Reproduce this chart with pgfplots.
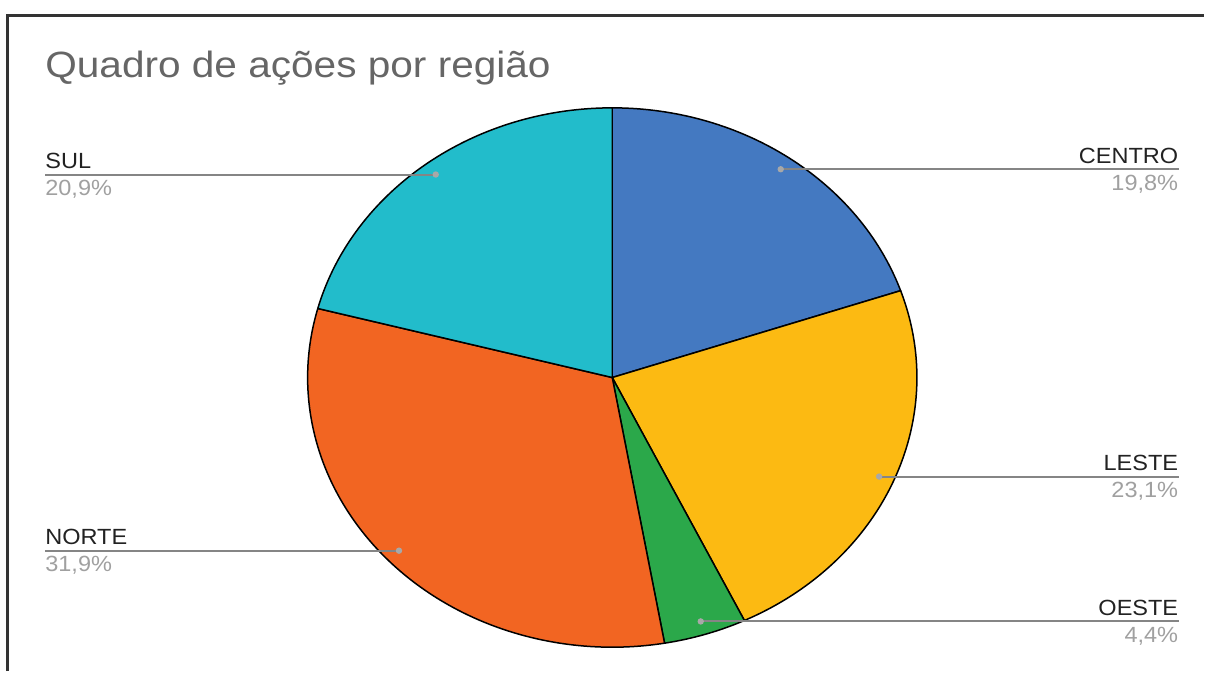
\documentclass[border=0pt]{standalone}
\usepackage{pgfplots}
\pgfplotsset{compat=1.18}
\usepackage{pgfplotstable}
\usepackage{fontspec}
\setmainfont[FakeStretch=1.11]{Liberation Sans}
\newfontfamily\labelfont[FakeStretch=1.07]{Liberation Sans}

\definecolor{cCentro}{HTML}{4479C1}
\definecolor{cLeste}{HTML}{FCBA12}
\definecolor{cOeste}{HTML}{2BA84A}
\definecolor{cNorte}{HTML}{F26522}
\definecolor{cSul}{HTML}{22BCCB}
\definecolor{titlegray}{HTML}{666666}
\definecolor{namegray}{HTML}{222222}
\definecolor{pctgray}{HTML}{A0A0A0}
\definecolor{linegray}{HTML}{858585}
\definecolor{dotgray}{HTML}{A8A8A8}
\definecolor{framegray}{HTML}{333333}

\pgfplotstableread{
region value pct color
CENTRO 19.8 19,8 cCentro
LESTE 23.1 23,1 cLeste
OESTE 4.4 4,4 cOeste
NORTE 31.9 31,9 cNorte
SUL 20.9 20,9 cSul
}\piedata

\newcommand\lblfont{\labelfont\fontsize{11}{13}\selectfont}

\begin{document}
\begin{tikzpicture}
\begin{axis}[scale only axis, width=602.5pt, height=336pt,
  xmin=0, xmax=1205, ymin=0, ymax=672, hide axis, clip=false]
\path (axis cs:0,0) rectangle (axis cs:1205,672);
\draw[line width=1.5pt, framegray] (axis cs:8,0) -- (axis cs:8,656) -- (axis cs:1205,656);
\node[anchor=base west, inner sep=0pt, text=titlegray,
  font=\fontsize{18.3}{22}\selectfont] at (axis cs:45,594) {Quadro de ações por região};

\pgfplotstablegetrowsof{\piedata}
\pgfmathtruncatemacro\nrows{\pgfplotsretval-1}
\def\total{0}
\pgfplotsforeachungrouped \i in {0,...,\nrows}{%
  \pgfplotstablegetelem{\i}{value}\of\piedata
  \pgfmathsetmacro\total{\total+\pgfplotsretval}%
}
% slices
\def\cum{0}
\pgfplotsforeachungrouped \i in {0,...,\nrows}{%
  \pgfplotstablegetelem{\i}{value}\of\piedata \let\val\pgfplotsretval
  \pgfplotstablegetelem{\i}{color}\of\piedata \let\col\pgfplotsretval
  \pgfmathsetmacro\aone{90-(\cum/\total)*360}%
  \pgfmathsetmacro\cum{\cum+\val}%
  \pgfmathsetmacro\atwo{90-(\cum/\total)*360}%
  \edef\temp{\noexpand\fill[\col, draw=black, line width=0.75pt, line join=round]
    (axis cs:613,294) -- ++(\aone:152.5pt and 135pt)
    arc[start angle=\aone, end angle=\atwo, x radius=152.5pt, y radius=135pt] -- cycle;}%
  \temp
}
% labels
\def\cum{0}
\pgfplotsforeachungrouped \i in {0,...,\nrows}{%
  \pgfplotstablegetelem{\i}{value}\of\piedata \let\val\pgfplotsretval
  \pgfplotstablegetelem{\i}{region}\of\piedata \let\reg\pgfplotsretval
  \pgfplotstablegetelem{\i}{pct}\of\piedata \let\pct\pgfplotsretval
  \pgfmathsetmacro\aone{90-(\cum/\total)*360}%
  \pgfmathsetmacro\cum{\cum+\val}%
  \pgfmathsetmacro\atwo{90-(\cum/\total)*360}%
  \pgfmathsetmacro\amid{(\aone+\atwo)/2}%
  \pgfmathsetmacro\dx{613+0.95*305*cos(\amid)}%
  \pgfmathsetmacro\dy{294+0.95*270*sin(\amid)}%
  \pgfmathsetmacro\ya{\dy+6}%
  \pgfmathsetmacro\yb{\dy-21}%
  \pgfmathtruncatemacro\right{cos(\amid)>0 ? 1 : 0}%
  \ifnum\right=1
    \edef\temp{\noexpand\draw[linegray, line width=1pt] (axis cs:\dx,\dy) -- (axis cs:1180,\dy);
      \noexpand\fill[dotgray] (axis cs:\dx,\dy) circle[radius=1.6pt];
      \noexpand\node[anchor=base east, inner sep=0pt, text=namegray, font=\noexpand\lblfont] at (axis cs:1180,\ya) {\reg};
      \noexpand\node[anchor=base east, inner sep=0pt, text=pctgray, font=\noexpand\lblfont] at (axis cs:1180,\yb) {\pct\noexpand\%};}%
  \else
    \edef\temp{\noexpand\draw[linegray, line width=1pt] (axis cs:\dx,\dy) -- (axis cs:45,\dy);
      \noexpand\fill[dotgray] (axis cs:\dx,\dy) circle[radius=1.6pt];
      \noexpand\node[anchor=base west, inner sep=0pt, text=namegray, font=\noexpand\lblfont] at (axis cs:45,\ya) {\reg};
      \noexpand\node[anchor=base west, inner sep=0pt, text=pctgray, font=\noexpand\lblfont] at (axis cs:45,\yb) {\pct\noexpand\%};}%
  \fi
  \temp
}
\end{axis}
\end{tikzpicture}
\end{document}
